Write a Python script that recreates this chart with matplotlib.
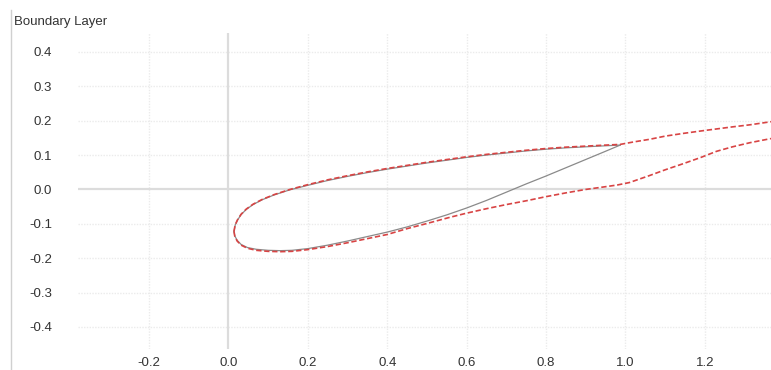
import matplotlib
matplotlib.use("Agg")
import matplotlib.pyplot as plt
from matplotlib.lines import Line2D

# ---- data ----
airfoil_upper_x = [0.014, 0.017, 0.023, 0.032, 0.045, 0.062, 0.085, 0.115, 0.155, 0.20, 0.25, 0.30,
                   0.35, 0.40, 0.45, 0.50, 0.55, 0.60, 0.65, 0.70, 0.75, 0.80, 0.85, 0.90, 0.95, 0.987]
airfoil_upper_y = [-0.122, -0.104, -0.089, -0.073, -0.058, -0.044, -0.030, -0.016, -0.001, 0.012, 0.026, 0.038,
                   0.049, 0.059, 0.068, 0.077, 0.085, 0.093, 0.100, 0.106, 0.112, 0.117, 0.121, 0.124, 0.127, 0.129]
airfoil_lower_x = [0.014, 0.016, 0.022, 0.032, 0.048, 0.07, 0.10, 0.13, 0.16, 0.20, 0.25, 0.30, 0.35,
                   0.40, 0.45, 0.50, 0.55, 0.60, 0.65, 0.70, 0.75, 0.80, 0.85, 0.90, 0.95, 0.987]
airfoil_lower_y = [-0.122, -0.135, -0.148, -0.160, -0.169, -0.174, -0.177, -0.178, -0.177, -0.172, -0.162,
                   -0.150, -0.137, -0.124, -0.109, -0.092, -0.074, -0.054, -0.032, -0.008, 0.016, 0.039,
                   0.063, 0.087, 0.111, 0.129]

bl_upper_x = [0.014, 0.017, 0.023, 0.032, 0.045, 0.062, 0.085, 0.115, 0.155, 0.20, 0.25, 0.30, 0.35, 0.40,
              0.45, 0.50, 0.55, 0.60, 0.65, 0.70, 0.75, 0.80, 0.85, 0.90, 0.95, 0.987, 1.02, 1.062, 1.10,
              1.146, 1.19, 1.23, 1.27, 1.314, 1.367]
bl_upper_y = [-0.122, -0.103, -0.088, -0.072, -0.057, -0.043, -0.029, -0.015, 0.000, 0.014, 0.028, 0.040,
              0.051, 0.061, 0.070, 0.079, 0.087, 0.095, 0.102, 0.108, 0.114, 0.119, 0.123, 0.126, 0.129,
              0.131, 0.138, 0.146, 0.155, 0.163, 0.170, 0.176, 0.182, 0.188, 0.197]
bl_lower_x = [0.014, 0.016, 0.022, 0.032, 0.048, 0.07, 0.10, 0.13, 0.16, 0.20, 0.25, 0.30, 0.35, 0.40,
              0.45, 0.50, 0.558, 0.60, 0.65, 0.70, 0.75, 0.80, 0.85, 0.90, 0.95, 0.98, 1.01, 1.035,
              1.06, 1.10, 1.146, 1.19, 1.23, 1.27, 1.314, 1.367]
bl_lower_y = [-0.122, -0.136, -0.150, -0.162, -0.171, -0.177, -0.180, -0.181, -0.180, -0.175, -0.166,
              -0.155, -0.143, -0.131, -0.114, -0.099, -0.081, -0.069, -0.056, -0.044, -0.033, -0.021,
              -0.010, 0.000, 0.008, 0.013, 0.020, 0.030, 0.040, 0.057, 0.075, 0.093, 0.111, 0.124,
              0.136, 0.148]

x_ticks = [-0.2, 0.0, 0.2, 0.4, 0.6, 0.8, 1.0, 1.2]
y_ticks = [-0.4, -0.3, -0.2, -0.1, 0.0, 0.1, 0.2, 0.3, 0.4]
title = "Boundary Layer"

# ---- figure ----
W, H = 771, 370
fig = plt.figure(figsize=(W / 100, H / 100), dpi=100)
font = "Liberation Sans"
txt_color = "#333333"

left, right, top, bottom = 78, 771, 33, 349
ax = fig.add_axes([left / W, 1 - bottom / H, (right - left) / W, (bottom - top) / H])
ax.set_xlim(-0.379, 1.367)
ax.set_ylim(-0.464, 0.455)

for s in ax.spines.values():
    s.set_visible(False)

ax.set_xticks(x_ticks)
ax.set_yticks(y_ticks)
ax.set_xticklabels([f"{v:.1f}" for v in x_ticks], fontfamily=font, fontsize=9.5, color=txt_color)
ax.set_yticklabels([f"{v:.1f}" for v in y_ticks], fontfamily=font, fontsize=9.5, color=txt_color)
ax.tick_params(axis="both", length=0)
ax.tick_params(axis="y", pad=18.5)
ax.tick_params(axis="x", pad=5.5)

grid_color = "#ebebeb"
for v in x_ticks:
    if abs(v) > 1e-9:
        ax.axvline(v, color=grid_color, lw=1.0, ls=(0, (1, 1)), zorder=0)
for v in y_ticks:
    if abs(v) > 1e-9:
        ax.axhline(v, color=grid_color, lw=1.0, ls=(0, (1, 1)), zorder=0)
ax.axvline(0, color="#dcdcdc", lw=1.6, zorder=1)
ax.axhline(0, color="#dcdcdc", lw=1.6, zorder=1)

ax.plot(airfoil_upper_x, airfoil_upper_y, color="#8a8a8a", lw=0.9, zorder=3)
ax.plot(airfoil_lower_x, airfoil_lower_y, color="#8a8a8a", lw=0.9, zorder=3)
ax.plot(bl_upper_x, bl_upper_y, color="#d84444", lw=1.2, ls=(0, (3.2, 1.6)), zorder=4)
ax.plot(bl_lower_x, bl_lower_y, color="#d84444", lw=1.2, ls=(0, (3.2, 1.6)), zorder=4)

# left frame line and title
fig.add_artist(Line2D([11 / W, 11 / W], [0, 1 - 10 / H], color="#d0d0d0", lw=1.0))
fig.text(14 / W, 1 - 22 / H, title, fontfamily=font, fontsize=9.5, color=txt_color,
         ha="left", va="center")

fig.savefig("out.png", dpi=100)
